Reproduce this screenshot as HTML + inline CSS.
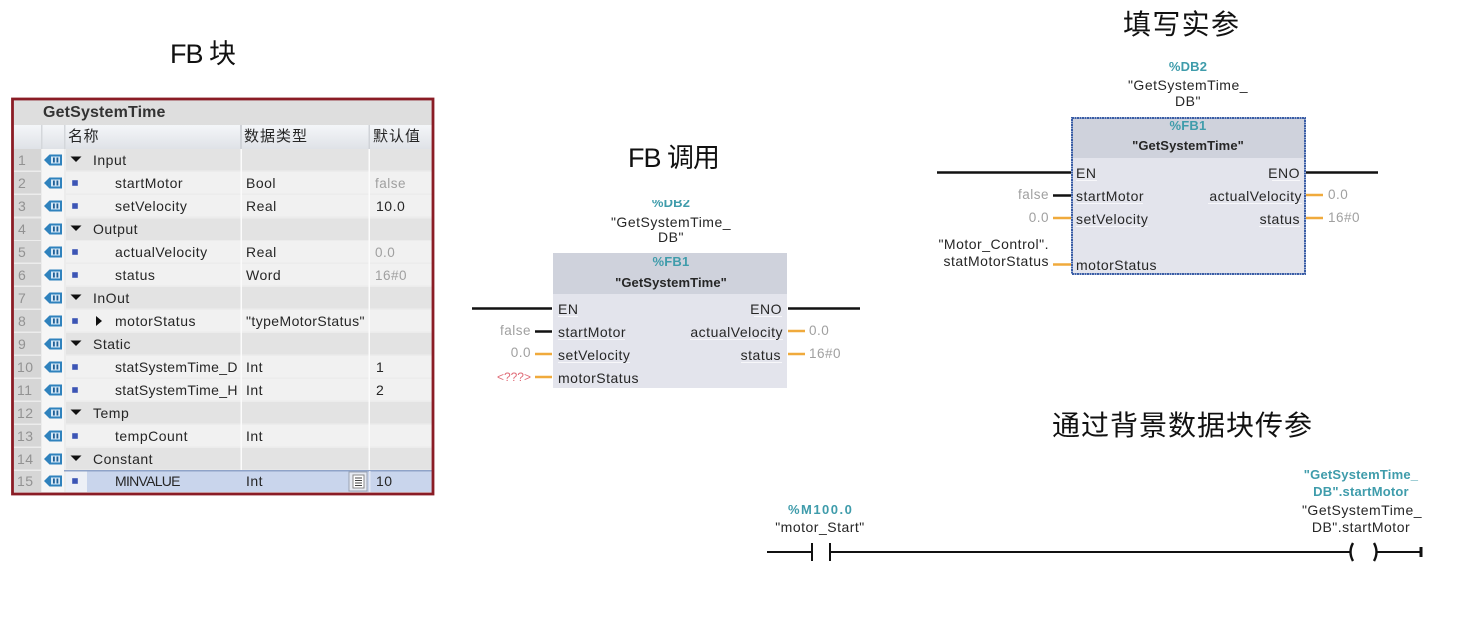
<!DOCTYPE html>
<html><head><meta charset="utf-8">
<style>
html,body{margin:0;padding:0;background:#fff;width:1476px;height:634px;overflow:hidden}
svg{display:block}
text{font-family:"Liberation Sans","Noto Sans CJK SC",sans-serif;font-size:14px;fill:#262626;letter-spacing:.5px}
.t{font-family:"Liberation Sans","Noto Sans CJK SC",sans-serif;font-size:28px;fill:#111;letter-spacing:0}
.n{fill:#929292;font-size:14px}
.g{fill:#a0a0a0;font-size:13.5px}
.c{fill:#3f9cab;font-weight:bold;font-size:13px;letter-spacing:.2px}
.b{font-weight:bold;font-size:13px;letter-spacing:.1px}
.m{text-anchor:middle}
.e{text-anchor:end}
.k{stroke:#111;stroke-width:2.4;fill:none}
.o{stroke:#f0aa3c;stroke-width:2.4;fill:none}
</style></head><body>
<svg width="1476" height="634" viewBox="0 0 1476 634" xmlns="http://www.w3.org/2000/svg">
<defs>
<linearGradient id="hd" x1="0" y1="0" x2="0" y2="1"><stop offset="0" stop-color="#f4f6f9"/><stop offset="1" stop-color="#dfe2e7"/></linearGradient>
<g id="i"><path d="M-9 0L-3.500-5.500H9V5.500H-3.500Z" fill="#2f82bd"/><rect x="-2" y="-3.500" width="9" height="7" fill="#d6e8f6"/><rect x="0" y="-2.500" width="1.800" height="5" fill="#1f5f96"/><rect x="3.500" y="-2.500" width="1.800" height="5" fill="#1f5f96"/></g>
<path id="d" d="M-5.500-2.500H5.500L0 3Z" fill="#111"/>
<rect id="s" x="-2.800" y="-2.800" width="5.600" height="5.600" fill="#3c55b5"/>
</defs>

<!-- titles -->
<text class="t" x="170" y="63" style="font-size:27px" textLength="66" lengthAdjust="spacing">FB 块</text>
<text class="t" x="628" y="167" style="font-size:27px" textLength="92" lengthAdjust="spacing">FB 调用</text>
<text class="t" x="1123" y="34" textLength="116" lengthAdjust="spacing">填写实参</text>
<text class="t" x="1052" y="435" textLength="260" lengthAdjust="spacing">通过背景数据块传参</text>

<!-- table -->
<rect x="12" y="99" width="421" height="395" fill="#ececec"/>
<rect x="14" y="100" width="418" height="25" fill="#dedede"/>
<text x="43" y="117" style="font-size:16px;font-weight:bold;fill:#333;letter-spacing:.15px">GetSystemTime</text>
<rect x="14" y="125" width="418" height="24" fill="url(#hd)"/>
<rect x="41" y="125" width="1.5" height="24" fill="#d4d7db"/><rect x="64" y="125" width="1.5" height="24" fill="#d4d7db"/><rect x="240" y="125" width="2" height="24" fill="#d0d3d8"/><rect x="368.500" y="125" width="1.500" height="24" fill="#d0d3d8"/>
<text x="68" y="141" style="font-size:15px;letter-spacing:.5px">名称</text>
<text x="244" y="141" style="font-size:15px;letter-spacing:1px">数据类型</text>
<text x="373" y="141" style="font-size:15px;letter-spacing:1px">默认值</text>

<!-- row backgrounds -->
<g fill="#e3e3e3">
<rect x="66" y="149" width="366" height="21.500"/><rect x="66" y="218.500" width="366" height="21.500"/><rect x="66" y="287" width="366" height="21.500"/><rect x="66" y="333" width="366" height="21.500"/><rect x="66" y="402" width="366" height="21.500"/><rect x="66" y="448" width="366" height="21.500"/>
</g>
<g fill="#f1f1f1">
<rect x="66" y="172" width="366" height="21.500"/><rect x="66" y="195" width="366" height="21.500"/><rect x="66" y="241" width="366" height="21.500"/><rect x="66" y="264" width="366" height="21.500"/><rect x="66" y="310" width="366" height="21.500"/><rect x="66" y="356" width="366" height="21.500"/><rect x="66" y="379" width="366" height="21.500"/><rect x="66" y="425" width="366" height="21.500"/>
</g>
<rect x="66" y="471" width="21" height="21" fill="#edf0f6"/>
<rect x="87" y="471" width="345" height="21" fill="#c9d5ec"/>
<rect x="42" y="470" width="390" height="1.500" fill="#8fa3c8"/>
<!-- number column -->
<g fill="#d6d6d6">
<rect x="14" y="149" width="27" height="21.500"/><rect x="14" y="172" width="27" height="21.500"/><rect x="14" y="195" width="27" height="21.500"/><rect x="14" y="218.500" width="27" height="21.500"/><rect x="14" y="241" width="27" height="21.500"/><rect x="14" y="264" width="27" height="21.500"/><rect x="14" y="287" width="27" height="21.500"/><rect x="14" y="310" width="27" height="21.500"/><rect x="14" y="333" width="27" height="21.500"/><rect x="14" y="356" width="27" height="21.500"/><rect x="14" y="379" width="27" height="21.500"/><rect x="14" y="402" width="27" height="21.500"/><rect x="14" y="425" width="27" height="21.500"/><rect x="14" y="448" width="27" height="21.500"/><rect x="14" y="471" width="27" height="21"/>
</g>
<g fill="#f6f6f6"><rect x="42" y="149" width="22" height="343"/></g>
<!-- col separators -->
<rect x="240.500" y="149" width="1.500" height="321" fill="#fbfbfb"/><rect x="368.500" y="149" width="1.500" height="321" fill="#fbfbfb"/>
<rect x="369" y="471" width="1.500" height="21" fill="#e4e9f4"/>

<!-- numbers -->
<g>
<text class="n" x="18" y="165">1</text><text class="n" x="18" y="188">2</text><text class="n" x="18" y="211">3</text><text class="n" x="18" y="234">4</text><text class="n" x="18" y="257">5</text><text class="n" x="18" y="280">6</text><text class="n" x="18" y="303">7</text><text class="n" x="18" y="326">8</text><text class="n" x="18" y="349">9</text><text class="n" x="17" y="372">10</text><text class="n" x="17" y="395">11</text><text class="n" x="17" y="418">12</text><text class="n" x="17" y="441">13</text><text class="n" x="17" y="464">14</text><text class="n" x="17" y="486">15</text>
</g>
<!-- icons -->
<use href="#i" x="53" y="160"/><use href="#i" x="53" y="183"/><use href="#i" x="53" y="206"/><use href="#i" x="53" y="229"/><use href="#i" x="53" y="252"/><use href="#i" x="53" y="275"/><use href="#i" x="53" y="298"/><use href="#i" x="53" y="321"/><use href="#i" x="53" y="344"/><use href="#i" x="53" y="367"/><use href="#i" x="53" y="390"/><use href="#i" x="53" y="413"/><use href="#i" x="53" y="436"/><use href="#i" x="53" y="459"/><use href="#i" x="53" y="481"/>
<!-- markers -->
<use href="#d" x="76" y="159"/><use href="#d" x="76" y="228"/><use href="#d" x="76" y="297"/><use href="#d" x="76" y="343"/><use href="#d" x="76" y="412"/><use href="#d" x="76" y="458"/>
<use href="#s" x="75" y="183"/><use href="#s" x="75" y="206"/><use href="#s" x="75" y="252"/><use href="#s" x="75" y="275"/><use href="#s" x="75" y="321"/><use href="#s" x="75" y="367"/><use href="#s" x="75" y="390"/><use href="#s" x="75" y="436"/><use href="#s" x="75" y="481"/>
<path d="M96 316L102 321L96 326Z" fill="#111"/>

<!-- names -->
<text x="93" y="165">Input</text>
<text x="115" y="188">startMotor</text>
<text x="115" y="211">setVelocity</text>
<text x="93" y="234">Output</text>
<text x="115" y="257">actualVelocity</text>
<text x="115" y="280">status</text>
<text x="93" y="303">InOut</text>
<text x="115" y="326">motorStatus</text>
<text x="93" y="349">Static</text>
<text x="115" y="372" textLength="123" lengthAdjust="spacing">statSystemTime_D</text>
<text x="115" y="395" textLength="123" lengthAdjust="spacing">statSystemTime_H</text>
<text x="93" y="418">Temp</text>
<text x="115" y="441">tempCount</text>
<text x="93" y="464">Constant</text>
<text x="115" y="486" textLength="66" lengthAdjust="spacing">MINVALUE</text>
<!-- types -->
<text x="246" y="188">Bool</text>
<text x="246" y="211">Real</text>
<text x="246" y="257">Real</text>
<text x="246" y="280">Word</text>
<text x="246" y="326" textLength="119" lengthAdjust="spacing">"typeMotorStatus"</text>
<text x="246" y="372">Int</text>
<text x="246" y="395">Int</text>
<text x="246" y="441">Int</text>
<text x="246" y="486">Int</text>
<!-- defaults -->
<text class="g" x="375" y="188">false</text>
<text x="376" y="211">10.0</text>
<text class="g" x="375" y="257">0.0</text>
<text class="g" x="375" y="280">16#0</text>
<text x="376" y="372">1</text>
<text x="376" y="395">2</text>
<text x="376" y="486">10</text>
<!-- picker icon -->
<rect x="349" y="472" width="18" height="19" fill="#e6eaf2" stroke="#9aa3b2"/>
<rect x="353" y="475" width="11" height="13" fill="#fff" stroke="#888"/>
<path d="M355 478h7M355 480.500h7M355 483h7M355 485.500h7" stroke="#444" stroke-width="1"/>
<!-- red border -->
<rect x="12.500" y="99" width="420.500" height="395" fill="none" stroke="#8a1c25" stroke-width="2.800"/>

<!-- FB call block -->
<text class="c m" x="671" y="207">%DB2</text>
<rect x="640" y="190" width="60" height="10" fill="#fff"/>
<text class="m" x="671" y="227">"GetSystemTime_</text>
<text class="m" x="671" y="242">DB"</text>
<rect x="553" y="253" width="234" height="135" fill="#e3e4ec"/>
<rect x="553" y="253" width="234" height="41" fill="#cfd2dc"/>
<text class="c m" x="671" y="266">%FB1</text>
<text class="b m" x="671" y="287">"GetSystemTime"</text>
<path class="k" d="M472 308.500H552M788 308.500H860M535 331.500H552"/>
<path class="o" d="M535 354H552M535 377H552M788 331H805M788 354H805"/>
<text x="558" y="314">EN</text><text class="e" x="782" y="314">ENO</text>
<path d="M558 316.500H578M558 339.500H625M558 362.500H630M754 316.500H782M690 339.500H783M741 362.500H782" stroke="#f7f7fa" stroke-width="1"/>
<text x="558" y="337">startMotor</text><text x="558" y="360">setVelocity</text><text x="558" y="383">motorStatus</text>
<text class="e" x="783" y="337">actualVelocity</text><text class="e" x="781" y="360">status</text>
<text class="g e" x="531" y="335">false</text><text class="g e" x="531" y="357">0.0</text>
<text class="e" x="531" y="381" style="fill:#e06c78;font-size:12px;letter-spacing:0">&lt;???&gt;</text>
<text class="g" x="809" y="335">0.0</text><text class="g" x="809" y="358">16#0</text>

<!-- filled block -->
<text class="c m" x="1188" y="71">%DB2</text>
<text class="m" x="1188" y="90">"GetSystemTime_</text>
<text class="m" x="1188" y="106">DB"</text>
<rect x="1072" y="118" width="233" height="156" fill="#e3e4ec"/>
<rect x="1072" y="118" width="233" height="40" fill="#cfd2dc"/>
<rect x="1072" y="118" width="233" height="156" fill="none" stroke="#3a5da6" stroke-width="2" stroke-dasharray="2 .5"/>
<text class="c m" x="1188" y="130">%FB1</text>
<text class="b m" x="1188" y="150">"GetSystemTime"</text>
<path class="k" d="M937 172.500H1071M1306 172.500H1378M1053 195.500H1071"/>
<path class="o" d="M1053 218H1071M1053 264.500H1071M1306 195H1323M1306 218H1323"/>
<path d="M1076 180.500H1097M1076 203.500H1143M1076 226.500H1148M1272 180.500H1300M1208 203.500H1302M1259 226.500H1300" stroke="#f7f7fa" stroke-width="1"/>
<text x="1076" y="178">EN</text><text class="e" x="1300" y="178">ENO</text>
<text x="1076" y="201">startMotor</text><text x="1076" y="224">setVelocity</text><text x="1076" y="270">motorStatus</text>
<text class="e" x="1302" y="201">actualVelocity</text><text class="e" x="1300" y="224">status</text>
<text class="g e" x="1049" y="199">false</text><text class="g e" x="1049" y="222">0.0</text>
<text class="e" x="1049" y="249">"Motor_Control".</text><text class="e" x="1049" y="266">statMotorStatus</text>
<text class="g" x="1328" y="199">0.0</text><text class="g" x="1328" y="222">16#0</text>

<!-- ladder -->
<text class="c m" x="820" y="514" textLength="64" lengthAdjust="spacing">%M100.0</text>
<text class="m" x="820" y="532">"motor_Start"</text>
<text class="c m" x="1361" y="479">"GetSystemTime_</text>
<text class="c m" x="1361" y="496">DB".startMotor</text>
<text class="m" x="1362" y="515">"GetSystemTime_</text>
<text class="m" x="1361" y="532">DB".startMotor</text>
<path d="M767 552H812M830 552H1351M1376 552H1421" stroke="#111" stroke-width="2" fill="none"/>
<path d="M812 543V561M830 543V561" stroke="#111" stroke-width="2" fill="none"/>
<path d="M1421 547V557" stroke="#111" stroke-width="3" fill="none"/>
<path d="M1353 543Q1348 552 1353 561M1374 543Q1379 552 1374 561" stroke="#111" stroke-width="2.400" fill="none"/>
</svg>
</body></html>
